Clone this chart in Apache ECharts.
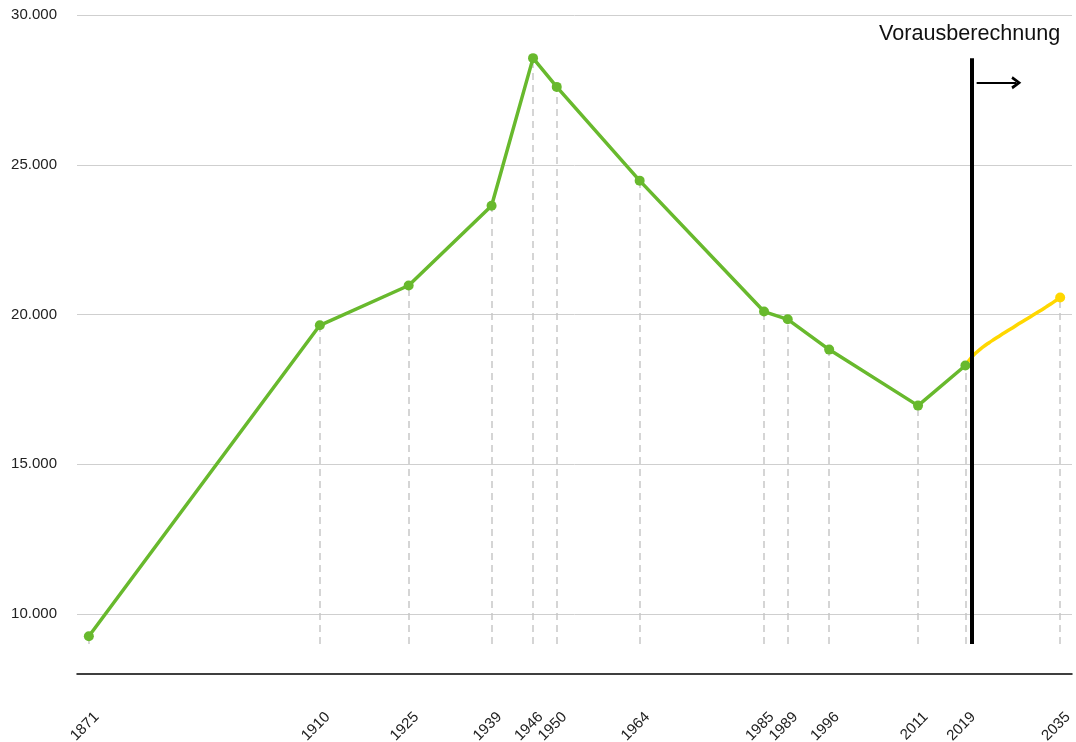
<!DOCTYPE html>
<html>
<head>
<meta charset="utf-8">
<script src="https://cdn.jsdelivr.net/npm/echarts@6/dist/echarts.min.js"></script>
<style>
  html, body { margin: 0; padding: 0; background: #fff; }
  #chart { width: 1076px; height: 742px; }
</style>
</head>
<body>
<div id="chart"></div>
<script>
// Einwohner, Zählungen
const years = [1871, 1910, 1925, 1939, 1946, 1950, 1964, 1985, 1989, 1996, 2011, 2019]
const population = [9260, 19640, 20970, 23630, 28560, 27600, 24470, 20100, 19840, 18830, 16960, 18300]

// Vorausberechnung
const forecastYears = [2019, 2020, 2021, 2022, 2023, 2024, 2025, 2026, 2027, 2028, 2029, 2030, 2031, 2032, 2033, 2034, 2035]
const forecast = [18300, 18560, 18760, 18920, 19060, 19190, 19320, 19440, 19560, 19690, 19810, 19930, 20050, 20170, 20300, 20430, 20570]

const yTicks = [10000, 15000, 20000, 25000, 30000]
const labelYears = years.concat([2035])

const dropTo = 9000
const forecastStart = 2020

const fmt = v => String(v).replace(/\B(?=(\d{3})+(?!\d))/g, '.')
const font = 'Liberation Sans, Arial, sans-serif'

const pairs = (xs, ys) => xs.map((x, i) => [x, ys[i]])

const dropLines = pairs(years, population).concat([[2035, forecast[forecast.length - 1]]])
  .map(p => [{ coord: [p[0], dropTo] }, { coord: [p[0], p[1]] }])

const gridLines = yTicks.map(v => ({
  yAxis: v,
  lineStyle: { color: '#cfcfcf', type: 'solid', width: 1 }
}))

const option = {
  animation: false,
  grid: { left: 77, right: 4, top: 15, bottom: 68, outerBoundsMode: 'none', containLabel: false },
  xAxis: {
    type: 'value',
    min: 1869,
    max: 2037,
    splitLine: { show: false },
    axisTick: { show: false },
    axisLine: { lineStyle: { color: '#000', width: 1.5 } },
    axisLabel: {
      customValues: labelYears,
      rotate: 45,
      margin: 33,
      verticalAlign: 'top',
      lineHeight: 22,
      fontSize: 15,
      fontFamily: font,
      color: '#222',
      formatter: v => String(v)
    }
  },
  yAxis: {
    type: 'value',
    min: 8000,
    max: 30000,
    splitLine: { show: false },
    axisLine: { show: false },
    axisTick: { show: false },
    axisLabel: {
      customValues: yTicks,
      margin: 20,
      padding: [4, 0, 0, 0],
      fontSize: 15,
      fontFamily: font,
      color: '#222',
      formatter: fmt
    }
  },
  series: [
    {
      name: 'hilfslinien',
      type: 'line',
      data: [],
      silent: true,
      markLine: {
        z: 1,
        silent: true,
        symbol: 'none',
        label: { show: false },
        lineStyle: { color: '#c8c8c8', type: [7, 5], width: 1.5 },
        data: gridLines.concat(dropLines)
      }
    },
    {
      name: 'Einwohner',
      type: 'line',
      z: 3,
      data: pairs(years, population),
      symbol: 'circle',
      symbolSize: 10,
      lineStyle: { color: '#68b92d', width: 3.5 },
      itemStyle: { color: '#68b92d' }
    },
    {
      name: 'Vorausberechnung',
      type: 'line',
      z: 3,
      smooth: true,
      data: pairs(forecastYears, forecast).map((p, i) => ({
        value: p,
        symbolSize: i === forecastYears.length - 1 ? 10 : 0
      })),
      symbol: 'circle',
      lineStyle: { color: '#ffd700', width: 3.5 },
      itemStyle: { color: '#ffd700' },
      markLine: {
        z: 6,
        silent: true,
        label: { show: false },
        data: [
          [
            { coord: [forecastStart, dropTo], symbol: 'none' },
            { coord: [forecastStart, 28560], symbol: 'none' }
          ],
          [
            { coord: [2020.9, 27740], symbol: 'none', lineStyle: { width: 2.2 } },
            {
              coord: [2027.6, 27740],
              symbol: 'path://M0,10 L6,0 L12,10 L9.6,11.6 L6,5.2 L2.4,11.6 Z',
              symbolSize: [13, 10],
              lineStyle: { width: 2.2 }
            }
          ]
        ],
        lineStyle: { color: '#000', type: 'solid', width: 4 }
      }
    }
  ],
  graphic: [
    {
      type: 'text',
      left: 879,
      top: 23,
      style: {
        text: 'Vorausberechnung',
        font: '21.6px ' + font,
        fill: '#111'
      }
    }
  ]
}

const myChart = echarts.init(document.getElementById('chart'), null, { renderer: 'canvas' })
myChart.setOption(option)
window.addEventListener('resize', myChart.resize)
</script>
</body>
</html>
